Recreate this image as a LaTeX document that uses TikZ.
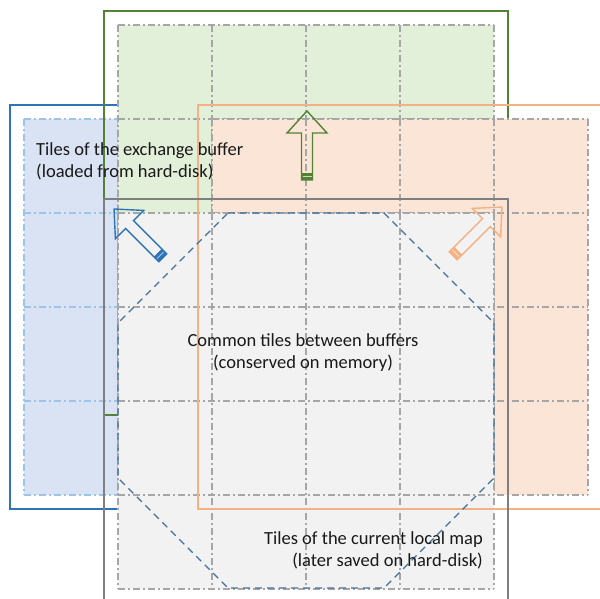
\documentclass[tikz,border=0pt]{standalone}
\usepackage{fontspec}
\setmainfont{Carlito}
\usetikzlibrary{positioning}

\definecolor{bufblue}{HTML}{2E75B6}
\definecolor{fillblue}{HTML}{DAE3F3}
\definecolor{gridblue}{HTML}{9DC3E6}
\definecolor{bufgreen}{HTML}{548235}
\definecolor{fillgreen}{HTML}{E2F0D9}
\definecolor{buforange}{HTML}{F4B183}
\definecolor{fillorange}{HTML}{FBE5D6}
\definecolor{bufgray}{HTML}{7F7F7F}
\definecolor{fillgray}{HTML}{F2F2F2}
\definecolor{gridgray}{HTML}{A6A6A6}
\definecolor{commonblue}{HTML}{41719C}

% tiles of one buffer: x0, y0, fill, line colour
\newcommand{\tilegrid}[4]{%
  \fill[#3] (#1,#2) rectangle ++(376,376);
  \foreach \k in {0,...,4}{
    \draw[gridline,#4] ({#1+\k*94},#2) -- ++(0,376);
    \draw[gridline,#4] (#1,{#2+\k*94}) -- ++(376,0);
  }}
% hollow block arrow, tip at (0,0), pointing up
\newcommand{\blockarrow}[1]{%
  \draw[arrowline,#1] (0,0) -- (20,22) -- (5.5,22) -- (5.5,69)
    -- (-5.5,69) -- (-5.5,22) -- (-20,22) -- cycle;
  \fill[#1] (-5.5,62) rectangle (5.5,69);
  \draw[white,line width=0.6pt,opacity=0.7] (-4.5,65.5) -- (4.5,65.5);}

\begin{document}
\begin{tikzpicture}[x=1pt,y=-1pt,
  gridline/.style={line width=1.3pt,dash pattern=on 7pt off 3pt on 2pt off 3pt},
  bufline/.style={line width=1.4pt},
  arrowline/.style={line width=1.4pt,line join=miter},
  lbl/.style={font=\fontsize{18.5}{22}\selectfont,inner sep=0pt,text=black!90}]
  \useasboundingbox (0,0) rectangle (600,599);
  \clip (0,0) rectangle (600,599);

  % exchange buffer (blue) and the two other loaded buffers
  \draw[bufline,bufblue] (10,105) rectangle (414,509);
  \tilegrid{24}{119}{fillblue}{gridblue}
  \draw[bufline,bufgreen] (104,11) rectangle (508,415);
  \tilegrid{118}{25}{fillgreen}{gridgray}
  \tilegrid{212}{119}{fillorange}{gridgray}

  % current local map
  \tilegrid{118}{213}{fillgray}{gridgray}
  \draw[bufline,buforange] (198,105) rectangle (602,509);
  \draw[bufline,bufgray] (104,199) rectangle (508,603);

  % common tiles
  \draw[commonblue,line width=1.3pt,dash pattern=on 7pt off 5pt]
    (228,213) -- (384,213) -- (494,323) -- (494,478)
    -- (384,588) -- (228,588) -- (118,478) -- (118,323) -- cycle;

  % moves of the buffer
  \begin{scope}[shift={(307,111)}]
    \blockarrow{bufgreen}
  \end{scope}
  \begin{scope}[shift={(114,209)},rotate=45]
    \blockarrow{bufblue}
  \end{scope}
  \begin{scope}[shift={(502,207)},rotate=-45]
    \blockarrow{buforange}
  \end{scope}

  \node[lbl,anchor=west,align=left] (exchange) at (36,161)
    {Tiles of the exchange buffer\\(loaded from hard-disk)};
  \node[lbl,align=center] (common) at (303,353)
    {Common tiles between buffers\\(conserved on memory)};
  \node[lbl,anchor=east,align=right] (current) at (483,550)
    {Tiles of the current local map\\(later saved on hard-disk)};
\end{tikzpicture}
\end{document}
